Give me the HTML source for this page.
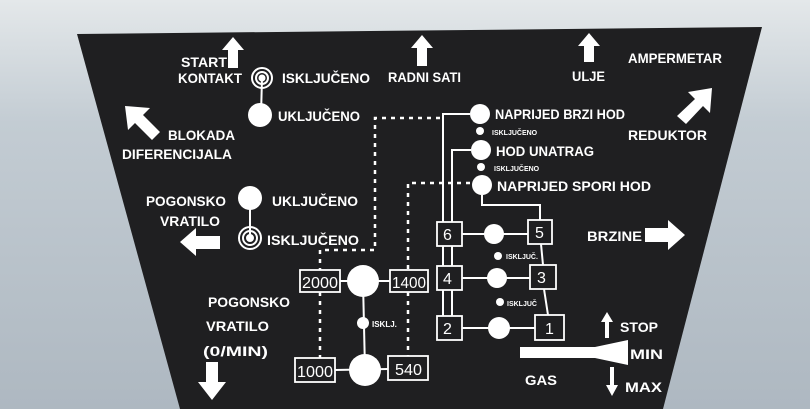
<!DOCTYPE html>
<html><head><meta charset="utf-8"><style>
html,body{margin:0;padding:0;width:810px;height:409px;overflow:hidden;background:#c9d1d7}
svg{display:block}
text{font-family:"Liberation Sans",sans-serif;font-weight:bold;fill:#fff}
</style></head><body>
<svg width="810" height="409" viewBox="0 0 810 409">
<defs>
<linearGradient id="bg" x1="0" y1="0" x2="0" y2="1">
<stop offset="0" stop-color="#e4e8ea"/><stop offset="0.3" stop-color="#c3ccd3"/><stop offset="1" stop-color="#aeb8c1"/>
</linearGradient>
</defs>
<rect width="810" height="409" fill="url(#bg)"/>
<polygon points="77,34 762,27 663,409 180,409" fill="#1f1f21"/>
<g fill="#fff" stroke="none">
<polygon points="233,37 244,50 238,50 238,68 228,68 228,50 222,50"/>
<polygon points="422,35 433,48 427,48 427,66 417,66 417,48 411,48"/>
<polygon points="589,33 600,46 594,46 594,62 584,62 584,46 578,46"/>
<polygon points="125,106 150,108 143,115 160,132 152,140 135,123 128,130"/>
<polygon points="712,88 710,113 703,106 686,124 677,116 695,99 688,92"/>
<polygon points="180,242 196,228 196,236 220,236 220,249 196,249 196,256"/>
<polygon points="685,235 668,220 668,228 645,228 645,242 668,242 668,250"/>
<polygon points="212,400 198,382 206,382 206,362 218,362 218,382 226,382"/>
<polygon points="607,312 613,322 609,322 609,338 605,338 605,322 601,322"/>
<polygon points="612,396 606,385 610,385 610,367 614,367 614,385 618,385"/>
<polygon points="520,347 595,347 628,340 628,365 595,358 520,358"/>
</g>
<g font-size="13.5">
<text x="181" y="67" textLength="46" lengthAdjust="spacingAndGlyphs">START</text>
<text x="178" y="83" textLength="64" lengthAdjust="spacingAndGlyphs">KONTAKT</text>
<text x="282" y="83" textLength="88" lengthAdjust="spacingAndGlyphs">ISKLJUČENO</text>
<text x="388" y="82" textLength="73" lengthAdjust="spacingAndGlyphs">RADNI SATI</text>
<text x="572" y="81" textLength="33" lengthAdjust="spacingAndGlyphs">ULJE</text>
<text x="628" y="63" textLength="94" lengthAdjust="spacingAndGlyphs">AMPERMETAR</text>
<text x="278" y="121" textLength="82" lengthAdjust="spacingAndGlyphs">UKLJUČENO</text>
<text x="168" y="140" textLength="67" lengthAdjust="spacingAndGlyphs">BLOKADA</text>
<text x="122" y="159" textLength="110" lengthAdjust="spacingAndGlyphs">DIFERENCIJALA</text>
<text x="628" y="140" textLength="79" lengthAdjust="spacingAndGlyphs">REDUKTOR</text>
<text x="495" y="119" textLength="130" lengthAdjust="spacingAndGlyphs">NAPRIJED BRZI HOD</text>
<text x="496" y="156" textLength="98" lengthAdjust="spacingAndGlyphs">HOD UNATRAG</text>
<text x="497" y="191" textLength="154" lengthAdjust="spacingAndGlyphs">NAPRIJED SPORI HOD</text>
<text x="146" y="206" textLength="80" lengthAdjust="spacingAndGlyphs">POGONSKO</text>
<text x="160" y="226" textLength="60" lengthAdjust="spacingAndGlyphs">VRATILO</text>
<text x="272" y="206" textLength="86" lengthAdjust="spacingAndGlyphs">UKLJUČENO</text>
<text x="267" y="245" textLength="92" lengthAdjust="spacingAndGlyphs">ISKLJUČENO</text>
<text x="587" y="241" textLength="55" lengthAdjust="spacingAndGlyphs">BRZINE</text>
<text x="208" y="307" textLength="82" lengthAdjust="spacingAndGlyphs">POGONSKO</text>
<text x="206" y="331" textLength="63" lengthAdjust="spacingAndGlyphs">VRATILO</text>
<text x="203" y="356" textLength="65" lengthAdjust="spacingAndGlyphs">(0/MIN)</text>
<text x="620" y="332" textLength="38" lengthAdjust="spacingAndGlyphs">STOP</text>
<text x="630" y="359" textLength="33" lengthAdjust="spacingAndGlyphs">MIN</text>
<text x="525" y="385" textLength="32" lengthAdjust="spacingAndGlyphs">GAS</text>
<text x="625" y="392" textLength="37" lengthAdjust="spacingAndGlyphs">MAX</text>
</g>
<g font-size="7">
<text x="492" y="135">ISKLJUČENO</text>
<text x="494" y="171">ISKLJUČENO</text>
<text x="506" y="259">ISKLJUČ.</text>
<text x="507" y="306">ISKLJUČ</text>
<text x="372" y="327" font-size="8">ISKLJ.</text>
</g>
<g stroke="#fff" stroke-width="2.5" fill="none" stroke-dasharray="4,5">
<polyline points="440,118 375,118 375,250 320,250 320,270"/>
<line x1="320" y1="292" x2="320" y2="358"/>
<polyline points="470,183 408,183 408,270"/>
<line x1="408" y1="292" x2="408" y2="356"/>
</g>
<g stroke="#fff" stroke-width="2" fill="none">
<polyline points="470,114 443,114 443,222"/>
<polyline points="471,150 452,150 452,222"/>
<line x1="443" y1="246" x2="443" y2="266"/><line x1="452" y1="246" x2="452" y2="266"/>
<line x1="443" y1="290" x2="443" y2="316"/><line x1="452" y1="290" x2="452" y2="316"/>
<polyline points="482,195 482,205 540,205 540,220"/>
<line x1="541" y1="244" x2="543" y2="265"/>
<line x1="544" y1="289" x2="548" y2="315"/>
<line x1="462" y1="234" x2="528" y2="234"/>
<line x1="462" y1="278" x2="530" y2="278"/>
<line x1="462" y1="328" x2="535" y2="328"/>
<line x1="250" y1="198" x2="250" y2="238"/>
<line x1="262" y1="78" x2="261" y2="115"/>
<line x1="340" y1="281" x2="390" y2="281"/>
<line x1="363" y1="282" x2="365" y2="370"/>
<line x1="335" y1="370" x2="388" y2="369"/>
</g>
<g stroke="#fff" stroke-width="1.8" fill="#1f1f21">
<rect x="437" y="222" width="25" height="24"/>
<rect x="437" y="266" width="25" height="24"/>
<rect x="437" y="316" width="25" height="24"/>
<rect x="528" y="220" width="24" height="24"/>
<rect x="530" y="265" width="26" height="24"/>
<rect x="535" y="315" width="29" height="25"/>
<rect x="300" y="270" width="40" height="22"/>
<rect x="390" y="270" width="38" height="22"/>
<rect x="295" y="358" width="40" height="24"/>
<rect x="388" y="356" width="40" height="24"/>
</g>
<g font-size="16">
<text x="443" y="240" style="font-weight:normal">6</text>
<text x="443" y="284" style="font-weight:normal">4</text>
<text x="443" y="334" style="font-weight:normal">2</text>
<text x="535" y="238" style="font-weight:normal">5</text>
<text x="537" y="283" style="font-weight:normal">3</text>
<text x="545" y="334" style="font-weight:normal">1</text>
<text x="302" y="288" style="font-weight:normal" textLength="36" lengthAdjust="spacingAndGlyphs">2000</text>
<text x="392" y="288" style="font-weight:normal" textLength="34" lengthAdjust="spacingAndGlyphs">1400</text>
<text x="297" y="377" style="font-weight:normal" textLength="36" lengthAdjust="spacingAndGlyphs">1000</text>
<text x="395" y="375" style="font-weight:normal" textLength="27" lengthAdjust="spacingAndGlyphs">540</text>
</g>
<g fill="#fff">
<circle cx="260" cy="115" r="12"/>
<circle cx="250" cy="198" r="12"/>
<circle cx="480" cy="114" r="10"/>
<circle cx="480" cy="131" r="4"/>
<circle cx="481" cy="150" r="10"/>
<circle cx="481" cy="167" r="4"/>
<circle cx="482" cy="185" r="10"/>
<circle cx="494" cy="234" r="10"/>
<circle cx="497" cy="278" r="10"/>
<circle cx="499" cy="328" r="11"/>
<circle cx="498" cy="256" r="4"/>
<circle cx="500" cy="302" r="4"/>
<circle cx="363" cy="281" r="16"/>
<circle cx="363" cy="323" r="6"/>
<circle cx="365" cy="370" r="16"/>
</g>
<g fill="none" stroke="#fff" stroke-width="2">
<circle cx="262" cy="78" r="10"/><circle cx="262" cy="78" r="6"/><circle cx="262" cy="78" r="2.5" fill="#fff"/>
<circle cx="250" cy="238" r="11"/><circle cx="250" cy="238" r="7"/><circle cx="250" cy="238" r="3" fill="#fff"/>
</g>
</svg>
</body></html>
